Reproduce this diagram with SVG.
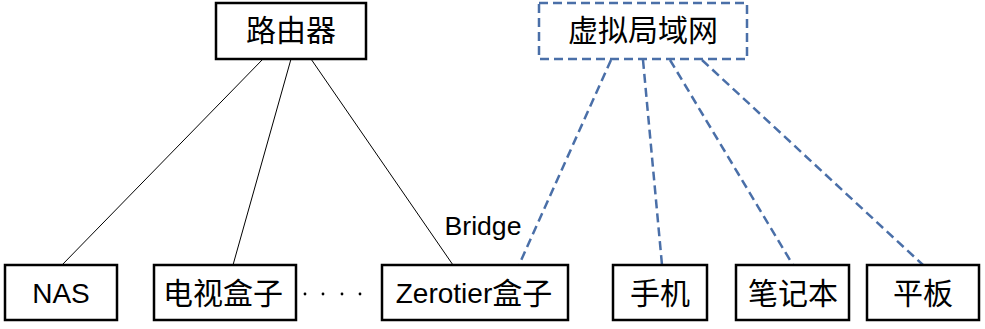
<svg xmlns="http://www.w3.org/2000/svg" width="985" height="329" viewBox="0 0 985 329">
<style>
.box{fill:#fff;stroke:#000;stroke-width:2.5}
.vbox{fill:#fff;stroke:#4a6fa8;stroke-width:2.5;stroke-dasharray:9 5}
.t{font-family:"Liberation Sans","Noto Sans CJK SC",sans-serif;font-size:30px;fill:#000;text-anchor:middle;dominant-baseline:central}
.lat{font-family:"Liberation Sans","Noto Sans CJK SC",sans-serif;font-size:26px}
.lat2{font-family:"Liberation Sans","Noto Sans CJK SC",sans-serif;font-size:28px}
.solid{stroke:#000;stroke-width:1;fill:none}
.dash{stroke:#4a6fa8;stroke-width:2.5;stroke-dasharray:9 5;fill:none}
</style>
<rect width="985" height="329" fill="#fff"/>
<g id="connectors">
<line class="solid" x1="263" y1="59" x2="62" y2="265"/>
<line class="solid" x1="291" y1="59" x2="233" y2="265"/>
<line class="solid" x1="311" y1="59" x2="453" y2="265"/>
<line class="dash" x1="611" y1="60" x2="519" y2="265"/>
<line class="dash" x1="643" y1="60" x2="662" y2="265"/>
<line class="dash" x1="670" y1="60" x2="793" y2="265"/>
<line class="dash" x1="702" y1="60" x2="923" y2="265"/>
<text x="483" y="226" class="t lat" textLength="77" lengthAdjust="spacingAndGlyphs">Bridge</text>
<g fill="#000">
<circle cx="305" cy="294" r="1.4"/>
<circle cx="323" cy="294" r="1.4"/>
<circle cx="342" cy="294" r="1.4"/>
<circle cx="360" cy="294" r="1.4"/>
</g>
</g>
<g id="router">
<rect class="box" x="216" y="3" width="150" height="56"/>
<text class="t" x="291" y="30">路由器</text>
</g>
<g id="vlan">
<rect class="vbox" x="539" y="3" width="208" height="56"/>
<text class="t" x="643" y="30">虚拟局域网</text>
</g>
<g id="nas">
<rect class="box" x="5" y="265" width="112" height="55"/>
<text class="t lat2" x="61" y="293">NAS</text>
</g>
<g id="tvbox">
<rect class="box" x="154" y="265" width="142" height="55"/>
<text class="t" x="223" y="293">电视盒子</text>
</g>
<g id="zerotier">
<rect class="box" x="382" y="265" width="186" height="55"/>
<text class="t" x="474" y="293"><tspan class="lat2">Zerotier</tspan>盒子</text>
</g>
<g id="phone">
<rect class="box" x="613" y="265" width="94" height="55"/>
<text class="t" x="660" y="293">手机</text>
</g>
<g id="laptop">
<rect class="box" x="736" y="265" width="113" height="55"/>
<text class="t" x="793" y="293">笔记本</text>
</g>
<g id="tablet">
<rect class="box" x="867" y="265" width="112" height="55"/>
<text class="t" x="923" y="293">平板</text>
</g>
</svg>
